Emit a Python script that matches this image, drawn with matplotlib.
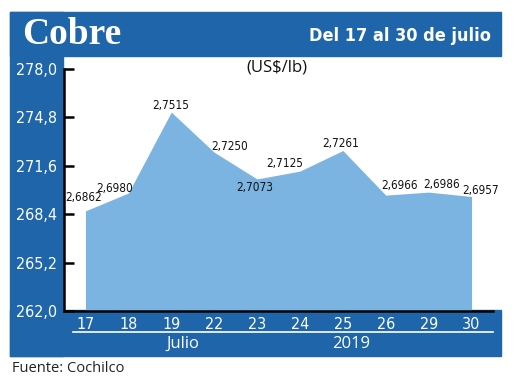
import matplotlib
matplotlib.use("Agg")
import matplotlib.pyplot as plt
from matplotlib.patches import Rectangle

days = ["17", "18", "19", "22", "23", "24", "25", "26", "29", "30"]
prices = [268.62, 269.80, 275.15, 272.50, 270.73, 271.25, 272.61, 269.66, 269.86, 269.57]
labels = ["2,6862", "2,6980", "2,7515", "2,7250", "2,7073", "2,7125", "2,7261", "2,6966", "2,6986", "2,6957"]
# label offsets in pixels (dx, dy) from each point
offsets = [(-2, 13), (-14, 5), (-1, 7), (15, 6), (-2, -9), (-15, 8), (-2, 7), (14, 10), (13, 8), (9, 6)]
yticks = [262.0, 265.2, 268.4, 271.6, 274.8, 278.0]
ytick_labels = ["262,0", "265,2", "268,4", "271,6", "274,8", "278,0"]

blue = "#1F65A9"
fill = "#7BB4E1"
narrow = "DejaVu Sans"

W, H = 520, 390
fig = plt.figure(figsize=(5.2, 3.9), dpi=100)


def box(x0, y0, x1, y1, color):
    # pixel coords from top-left
    fig.patches.append(Rectangle((x0 / W, 1 - y1 / H), (x1 - x0) / W, (y1 - y0) / H,
                                 transform=fig.transFigure, color=color, zorder=0))


box(10, 12, 501, 56, blue)
box(10, 12, 63, 356, blue)
box(10, 310, 501, 356, blue)

ax = fig.add_axes([64 / W, 79 / H, 429 / W, 242 / H])
ax.set_zorder(2)
ax.patch.set_alpha(0)
x = list(range(len(days)))
ax.fill_between(x, 262, prices, color=fill, lw=0)
ax.set_xlim(-0.5, len(days) - 0.5)
ax.set_ylim(262, 278)

for i in x:
    ax.annotate(labels[i], (i, prices[i]), xytext=offsets[i], textcoords="offset pixels",
                ha="center", va="center", fontsize=8.5, family=narrow, fontstretch="condensed",
                color="#111111")

ax.set_yticks(yticks)
ax.set_yticklabels(ytick_labels, family=narrow, fontstretch="condensed", fontsize=11.5, color="white")
ax.set_xticks(x)
ax.set_xticklabels(days, family=narrow, fontstretch="condensed", fontsize=11.5, color="white")
ax.tick_params(axis="y", direction="in", length=7, width=1.8, pad=5)
ax.tick_params(axis="x", length=0, pad=4)
for s in ["top", "right"]:
    ax.spines[s].set_visible(False)
ax.spines["left"].set_linewidth(1.8)
ax.spines["bottom"].set_linewidth(1.8)

fig.text(22 / W, 1 - 34 / H, "Cobre", family="Liberation Serif", fontweight="bold",
         fontsize=27, color="white", va="center", ha="left")
fig.text(491 / W, 1 - 36 / H, "Del 17 al 30 de julio", family=narrow, fontstretch="condensed",
         fontweight="bold", fontsize=13, color="white", va="center", ha="right")
fig.text(277 / W, 1 - 68 / H, "(US$/lb)", family="Open Sans", fontsize=12,
         color="#111111", va="center", ha="center")

fig.lines.append(plt.Line2D([73 / W, 493 / W], [1 - 332 / H, 1 - 332 / H],
                            transform=fig.transFigure, color="white", lw=1.2))
fig.text(183 / W, 1 - 344 / H, "Julio", family="Open Sans", fontsize=12,
         color="white", va="center", ha="center")
fig.text(351 / W, 1 - 344 / H, "2019", family="Open Sans", fontsize=12,
         color="white", va="center", ha="center")
fig.text(12 / W, 1 - 368 / H, "Fuente: Cochilco", family="Open Sans", fontsize=10.5,
         color="#222222", va="center", ha="left")

fig.savefig("out.png", dpi=100)
